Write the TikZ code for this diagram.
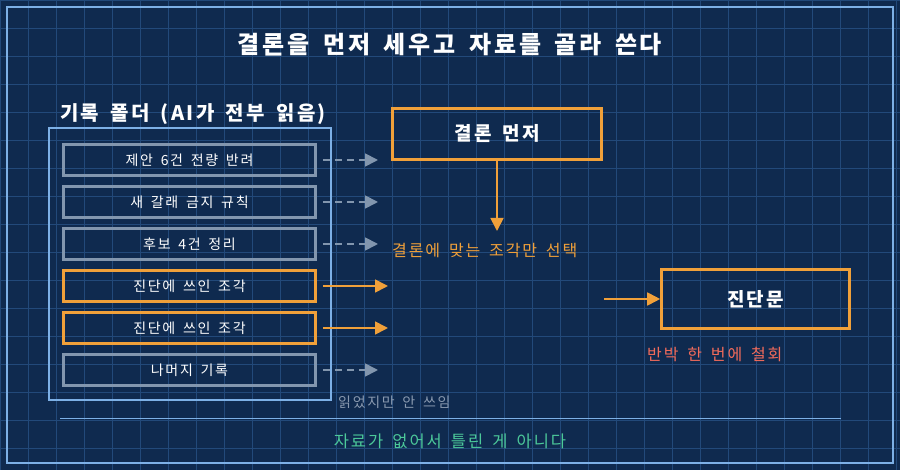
\documentclass[tikz,border=0pt]{standalone}
\usepackage{fontspec}
\setmainfont{Noto Sans CJK KR}[LetterSpace=12,WordSpace=1.6]
\usetikzlibrary{arrows.meta}
\definecolor{bg}{HTML}{0F2A4F}
\definecolor{gridc}{HTML}{22497A}
\definecolor{frame}{HTML}{7DB0E6}
\definecolor{grayb}{HTML}{8296AE}
\definecolor{orng}{HTML}{F0A03A}
\definecolor{salmon}{HTML}{F26B5B}
\definecolor{grn}{HTML}{4CC99A}
\definecolor{grytxt}{HTML}{8A9AB0}
\begin{document}
\begin{tikzpicture}[x=1pt,y=-1pt,
  item/.style={draw=grayb,line width=2.6pt,minimum width=252pt,minimum height=31pt,inner sep=0pt,text=white,font=\fontsize{14}{14}\selectfont},
  oitem/.style={item,draw=orng},
  obox/.style={draw=orng,line width=2.6pt,inner sep=0pt,text=white,font=\bfseries\fontsize{19}{19}\selectfont},
  dar/.style={grayb,line width=1.8pt,dash pattern=on 7pt off 5pt,-{Triangle[length=13pt,width=13pt]}},
  oar/.style={orng,line width=1.8pt,-{Triangle[length=13pt,width=13pt]}}]
\fill[bg] (0,0) rectangle (900,470);
\useasboundingbox (0,0) rectangle (900,470);
\draw[gridc,line width=0.8pt] (0,0) grid[step=28pt] (900,470);
\draw[frame,line width=1.5pt] (7,7) rectangle (893,463);
\node[text=white,font=\bfseries\fontsize{24}{24}\selectfont] (title) at (450,45) {결론을 먼저 세우고 자료를 골라 쓴다};
\node[anchor=west,text=white,font=\bfseries\fontsize{20}{20}\selectfont,inner sep=0pt] (flabel) at (60,114) {기록 폴더 (AI가 전부 읽음)};
\node[draw=frame,line width=1.5pt,minimum width=282pt,minimum height=272pt,inner sep=0pt] (folder) at (190,264) {};
\node[item] (i1) at (189.5,160) {제안 6건 전량 반려};
\node[item] (i2) at (189.5,202) {새 갈래 금지 규칙};
\node[item] (i3) at (189.5,244) {후보 4건 정리};
\node[oitem] (i4) at (189.5,286) {진단에 쓰인 조각};
\node[oitem] (i5) at (189.5,328) {진단에 쓰인 조각};
\node[item] (i6) at (189.5,370) {나머지 기록};
\coordinate (e1) at (378,160);
\coordinate (e2) at (378,202);
\coordinate (e3) at (378,244);
\coordinate (e4) at (388,286);
\coordinate (e5) at (388,328);
\coordinate (e6) at (378,370);
\draw[dar] ([xshift=6pt]i1.east) -- (e1);
\draw[dar] ([xshift=6pt]i2.east) -- (e2);
\draw[dar] ([xshift=6pt]i3.east) -- (e3);
\draw[oar] ([xshift=6pt]i4.east) -- (e4);
\draw[oar] ([xshift=6pt]i5.east) -- (e5);
\draw[dar] ([xshift=6pt]i6.east) -- (e6);
\node[obox,minimum width=209pt,minimum height=51pt] (concl) at (497,134) {결론 먼저};
\coordinate (csel) at (497,231);
\draw[oar] ([yshift=2pt]concl.south) -- (csel);
\node[anchor=west,inner sep=0pt,text=orng,font=\fontsize{16}{16}\selectfont] (sel) at (392,251) {결론에 맞는 조각만 선택};
\node[obox,minimum width=188pt,minimum height=59pt] (diag) at (755.5,299) {진단문};
\coordinate (ds) at (604,299);
\draw[oar] (ds) -- (diag.west);
\node[anchor=west,inner sep=0pt,text=salmon,font=\fontsize{16}{16}\selectfont] (ret) at (647,354) {반박 한 번에 철회};
\node[anchor=west,inner sep=0pt,text=grytxt,font=\fontsize{14}{14}\selectfont] (unused) at (338,402) {읽었지만 안 쓰임};
\coordinate (l1) at (60,418);
\coordinate (l2) at (841,418);
\draw[frame,line width=1pt] (l1) -- (l2);
\node[text=grn,font=\fontsize{16.5}{16.5}\selectfont] (foot) at (450,441) {자료가 없어서 틀린 게 아니다};
\end{tikzpicture}
\end{document}
